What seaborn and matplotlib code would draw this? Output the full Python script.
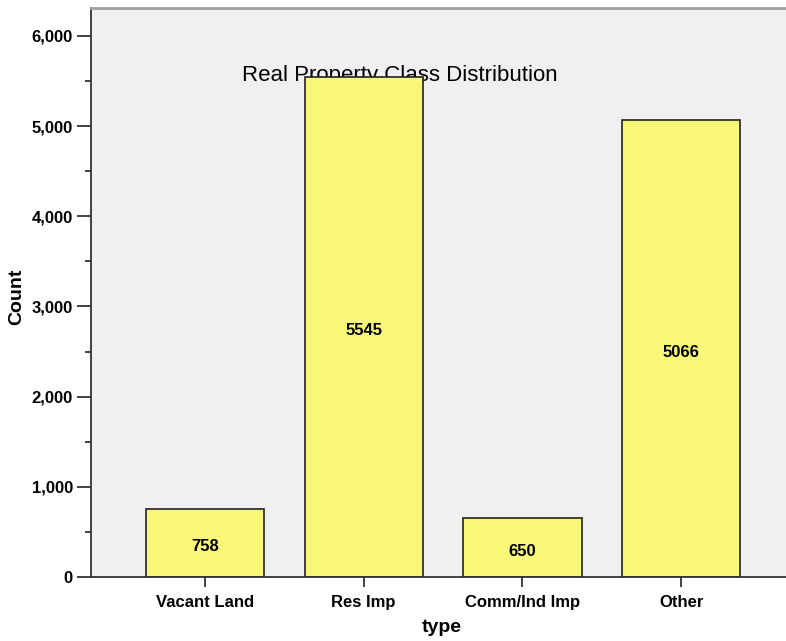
import matplotlib
matplotlib.use("Agg")
import matplotlib.pyplot as plt
from matplotlib.ticker import MultipleLocator, FuncFormatter
import seaborn as sns
import pandas as pd

categories = ["Vacant Land", "Res Imp", "Comm/Ind Imp", "Other"]
counts = [758, 5545, 650, 5066]

df = pd.DataFrame({"type": categories, "Count": counts})

sns.set_theme(style="white")
plt.rcParams["font.family"] = ["Liberation Sans", "DejaVu Sans"]
plt.rcParams["text.color"] = "black"
plt.rcParams["axes.labelcolor"] = "black"
plt.rcParams["xtick.color"] = "black"
plt.rcParams["ytick.color"] = "black"

fig = plt.figure(figsize=(7.86, 6.41), dpi=100)
ax = fig.add_axes([91 / 786, 64 / 641, 1 - 91 / 786, (577 - 8) / 641])
ax.set_facecolor("#f0f0f0")

sns.barplot(data=df, x="type", y="Count", order=categories, color="#f9f777",
            saturation=1, width=0.744, edgecolor="#222222", linewidth=1.2,
            zorder=2, ax=ax)

for i, v in enumerate(counts):
    ax.annotate(f"{v}", (i, v / 2), xytext=(0, -4), textcoords="offset pixels",
                ha="center", va="center", fontsize=12, fontweight="bold",
                color="black", zorder=3)

ax.set_xlim(-0.718, 3.66)
ax.set_ylim(0, 6310)
ax.yaxis.set_major_locator(MultipleLocator(1000))
ax.yaxis.set_minor_locator(MultipleLocator(500))
ax.yaxis.set_major_formatter(FuncFormatter(lambda v, p: f"{int(v):,}"))

tick_font = {"family": "Liberation Sans", "weight": "bold", "size": 12}
ax.tick_params(axis="y", which="major", direction="out", length=10, width=1.3,
               color="#333333", pad=3, left=True)
ax.tick_params(axis="y", which="minor", direction="out", length=4, width=1.3,
               color="#333333", left=True)
ax.tick_params(axis="x", direction="out", length=7, width=1.3, color="#333333",
               pad=6, bottom=True)
for lab in ax.get_xticklabels() + ax.get_yticklabels():
    lab.set_fontproperties(tick_font)

for side in ["left", "bottom"]:
    ax.spines[side].set_color("#333333")
    ax.spines[side].set_linewidth(1.3)
ax.spines["top"].set_color("#a0a0a0")
ax.spines["top"].set_linewidth(2)
ax.spines["right"].set_visible(False)

label_font = {"family": "Liberation Sans", "weight": "bold", "size": 14}
ax.set_xlabel("type", fontdict=label_font)
ax.set_ylabel("Count", fontdict=label_font)
ax.xaxis.set_label_coords((442 - 91) / (786 - 91), -(627 - 577) / (577 - 8))
ax.yaxis.set_label_coords(-(91 - 17) / (786 - 91), (577 - 297) / (577 - 8))
ax.xaxis.label.set_va("center")
ax.yaxis.label.set_va("center")

# chart title sits inside the plot area, behind the bars
ax.text((400 - 91) / (786 - 91), (577 - 75) / (577 - 8),
        "Real Property Class Distribution", transform=ax.transAxes,
        ha="center", va="center", fontsize=16, color="black", zorder=1)

fig.savefig("out.png", dpi=100, facecolor="white")
